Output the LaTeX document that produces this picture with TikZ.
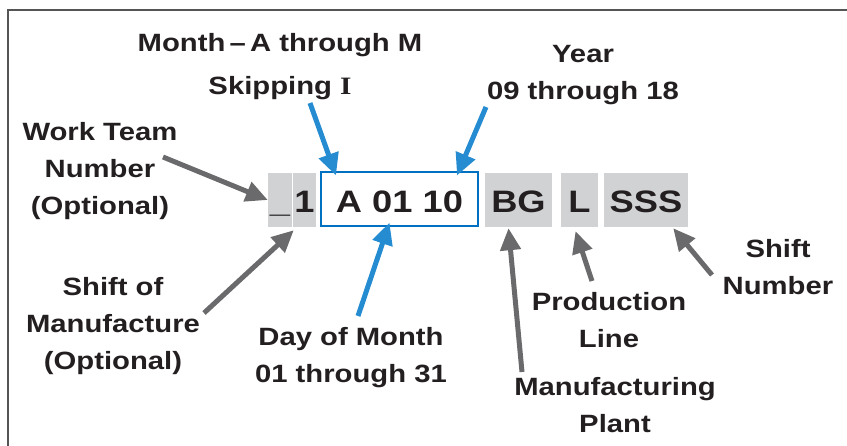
\documentclass[tikz,border=0pt]{standalone}
\usepackage{fontspec}
\usetikzlibrary{arrows.meta,calc}
\newfontfamily\lblfont{Liberation Sans}[FakeStretch=1.17]
\newfontfamily\serfont{Liberation Serif}[FakeStretch=1.17]
\definecolor{txtgray}{RGB}{35,31,32}
\definecolor{boxgray}{RGB}{209,210,212}
\definecolor{arrgray}{RGB}{106,106,108}
\definecolor{arrblue}{RGB}{38,140,210}
\definecolor{codeblue}{RGB}{0,112,192}
\definecolor{framegray}{RGB}{85,85,85}
\begin{document}
\begin{tikzpicture}[x=1pt, y=-1pt,
    lbl/.style={align=center, anchor=base, inner sep=0pt, text=txtgray, font=\lblfont\bfseries\fontsize{25}{37}\selectfont},
    code box/.style={rectangle, inner sep=0pt, minimum height=54pt, text height=26pt, text depth=0pt, text=txtgray, font=\lblfont\bfseries\fontsize{31}{36}\selectfont},
    gray box/.style={code box, fill=boxgray},
    grayarrow/.style={draw=arrgray, line width=5pt, -{Triangle[length=22pt,width=20pt]}},
    bluearrow/.style={draw=arrblue, line width=5pt, -{Triangle[length=22pt,width=20pt]}}]
    \useasboundingbox (0,0) rectangle (847,446);
    % cadre
    \draw[framegray, line width=2pt] (8,446) -- (8,10) -- (847,10);

    % le code
    \node[gray box, minimum width=24pt] (us) at (280,200) {\_};
    \node[gray box, minimum width=23pt] (one) at (304.5,200) {1};
    \node[code box, draw=codeblue, line width=2pt, minimum width=157pt] (code) at (399.5,199.5) {A 01 10};
    \node[gray box, minimum width=67pt] (bg) at (518.5,200) {BG};
    \node[gray box, minimum width=37pt] (l) at (579.5,200) {L};
    \node[gray box, minimum width=84pt] (sss) at (646,200) {SSS};

    % textes au-dessus (base = derniere ligne)
    \node[lbl] (month) at (280,95) {Month\,–\,A through M\\[6pt] Skipping {\serfont\bfseries I}};
    \node[lbl] (year) at (583,100) {Year\\ 09 through 18};
    \node[lbl] (team) at (100,215) {Work Team\\ Number\\ (Optional)};

    % textes au-dessous
    \node[lbl] (shift) at (113,370) {Shift of\\ Manufacture\\ (Optional)};
    \node[lbl] (day) at (351,383) {Day of Month\\ 01 through 31};
    \node[lbl] (plant) at (615,433) {Manufacturing\\ Plant};
    \node[lbl] (line) at (609,348) {Production\\ Line};
    \node[lbl] (shnum) at (778,295) {Shift\\ Number};

    % departs des fleches
    \coordinate (month-s) at (310,103);
    \coordinate (year-s) at (486,107);
    \coordinate (team-s) at (163,157);
    \coordinate (shift-s) at (204,313);
    \coordinate (day-s) at (358,316);
    \coordinate (plant-s) at (522,372);
    \coordinate (line-s) at (592,281);
    \coordinate (shnum-s) at (712,275);

    % fleches bleues
    \draw[bluearrow] (month-s) -- ($(code.north west)+(16,4)$);
    \draw[bluearrow] (year-s) -- ($(code.north east)+(-22,4)$);
    \draw[bluearrow] (day-s) -- ($(code.south)+(-10,-5)$);

    % fleches grises
    \draw[grayarrow] (team-s) -- (us.west);
    \draw[grayarrow] (shift-s) -- ($(one.south west)+(1,3)$);
    \draw[grayarrow] (plant-s) -- ($(bg.south)+(-10,1)$);
    \draw[grayarrow] (line-s) -- ($(l.south)+(-4,4)$);
    \draw[grayarrow] (shnum-s) -- ($(sss.south east)+(-15,1)$);
\end{tikzpicture}
\end{document}
